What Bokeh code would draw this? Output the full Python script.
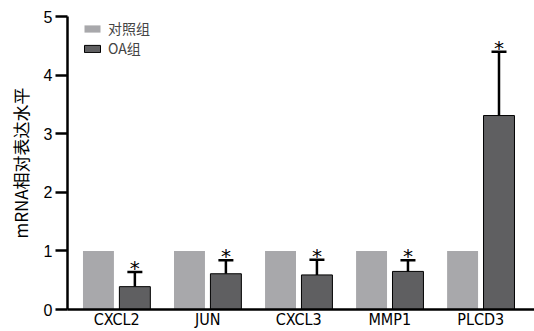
from bokeh.plotting import figure
from bokeh.models import (Range1d, ColumnDataSource, Whisker, TeeHead, Legend,
                          LegendItem, FixedTicker)
from bokeh.core.properties import value
from bokeh.embed import file_html
from bokeh.resources import INLINE

categories = ["CXCL2", "JUN", "CXCL3", "MMP1", "PLCD3"]
control = [1.0, 1.0, 1.0, 1.0, 1.0]
oa = [0.39, 0.61, 0.59, 0.65, 3.31]
oa_err = [0.25, 0.23, 0.26, 0.19, 1.09]
legend_labels = ["对照组", "OA组"]
y_ticks = [0, 1, 2, 3, 4, 5]

idx = list(range(len(categories)))
offset = 0.20
bw = 0.34
x_ctrl = [i - offset for i in idx]
x_oa = [i + offset for i in idx]
upper = [v + e for v, e in zip(oa, oa_err)]

src = ColumnDataSource(dict(x_ctrl=x_ctrl, x_oa=x_oa, ctrl=control, oa=oa,
                            upper=upper, star=["*"] * len(idx)))

p = figure(width=534, height=331, output_backend="svg", toolbar_location=None,
           x_range=Range1d(-0.54, 4.59), y_range=Range1d(0, 5),
           min_border_left=67, min_border_right=0, min_border_top=16,
           min_border_bottom=18)
p.outline_line_color = None
p.xgrid.visible = False
p.ygrid.visible = False
p.background_fill_color = "white"

r1 = p.vbar(x="x_ctrl", top="ctrl", width=bw, source=src,
            fill_color="#a8a8ab", line_color=None)
r2 = p.vbar(x="x_oa", top="oa", width=bw, source=src,
            fill_color="#5f5f61", line_color="black", line_width=1)

w = Whisker(source=src, base="x_oa", upper="upper", lower="oa",
            line_color="black", line_width=2.5,
            upper_head=TeeHead(size=15, line_color="black", line_width=2.5),
            lower_head=None)
p.add_layout(w)

p.text(x="x_oa", y="upper", text="star", source=src, text_align="center",
       text_baseline="alphabetic", y_offset=-4, text_font_size="20px",
       text_color="#000000", text_font=value("DejaVu Sans"))

# axes
p.yaxis.ticker = FixedTicker(ticks=y_ticks)
p.yaxis.axis_line_width = 2.5
p.yaxis.axis_line_color = "black"
p.yaxis.major_tick_out = 12
p.yaxis.major_tick_in = 0
p.yaxis.major_tick_line_width = 2.5
p.yaxis.minor_tick_line_color = None
p.yaxis.major_label_text_font_size = "16px"
p.yaxis.major_label_text_font = "Liberation Sans"
p.yaxis.major_label_text_color = "black"
p.yaxis.major_label_standoff = 3
p.yaxis.axis_label = "mRNA相对表达水平"
p.yaxis.axis_label_text_font = "Noto Sans CJK SC"
p.yaxis.axis_label_text_font_size = "17px"
p.yaxis.axis_label_text_font_style = "normal"
p.yaxis.axis_label_text_color = "black"
p.yaxis.axis_label_standoff = 8

p.xaxis.ticker = FixedTicker(ticks=idx)
p.xaxis.major_label_overrides = {i: c for i, c in zip(idx, categories)}
p.xaxis.axis_line_width = 2.5
p.xaxis.axis_line_color = "black"
p.xaxis.major_tick_line_color = None
p.xaxis.major_tick_out = 0
p.xaxis.major_tick_in = 0
p.xaxis.minor_tick_line_color = None
p.xaxis.minor_tick_out = 0
p.xaxis.major_label_standoff = 0
p.xaxis.major_label_text_font = "Liberation Sans Narrow, DejaVu Sans Condensed"
p.xaxis.major_label_text_font_size = "16px"
p.xaxis.major_label_text_color = "black"

legend = Legend(items=[LegendItem(label=legend_labels[0], renderers=[r1]),
                       LegendItem(label=legend_labels[1], renderers=[r2])],
                location=(15, 251), padding=0, margin=0, spacing=0,
                label_height=20, glyph_height=9, glyph_width=20,
                label_standoff=6, border_line_color=None,
                background_fill_alpha=0,
                label_text_font="Noto Sans CJK SC", label_text_font_size="14px")
p.add_layout(legend, "center")

open("out.html", "w").write(file_html(p, INLINE))
